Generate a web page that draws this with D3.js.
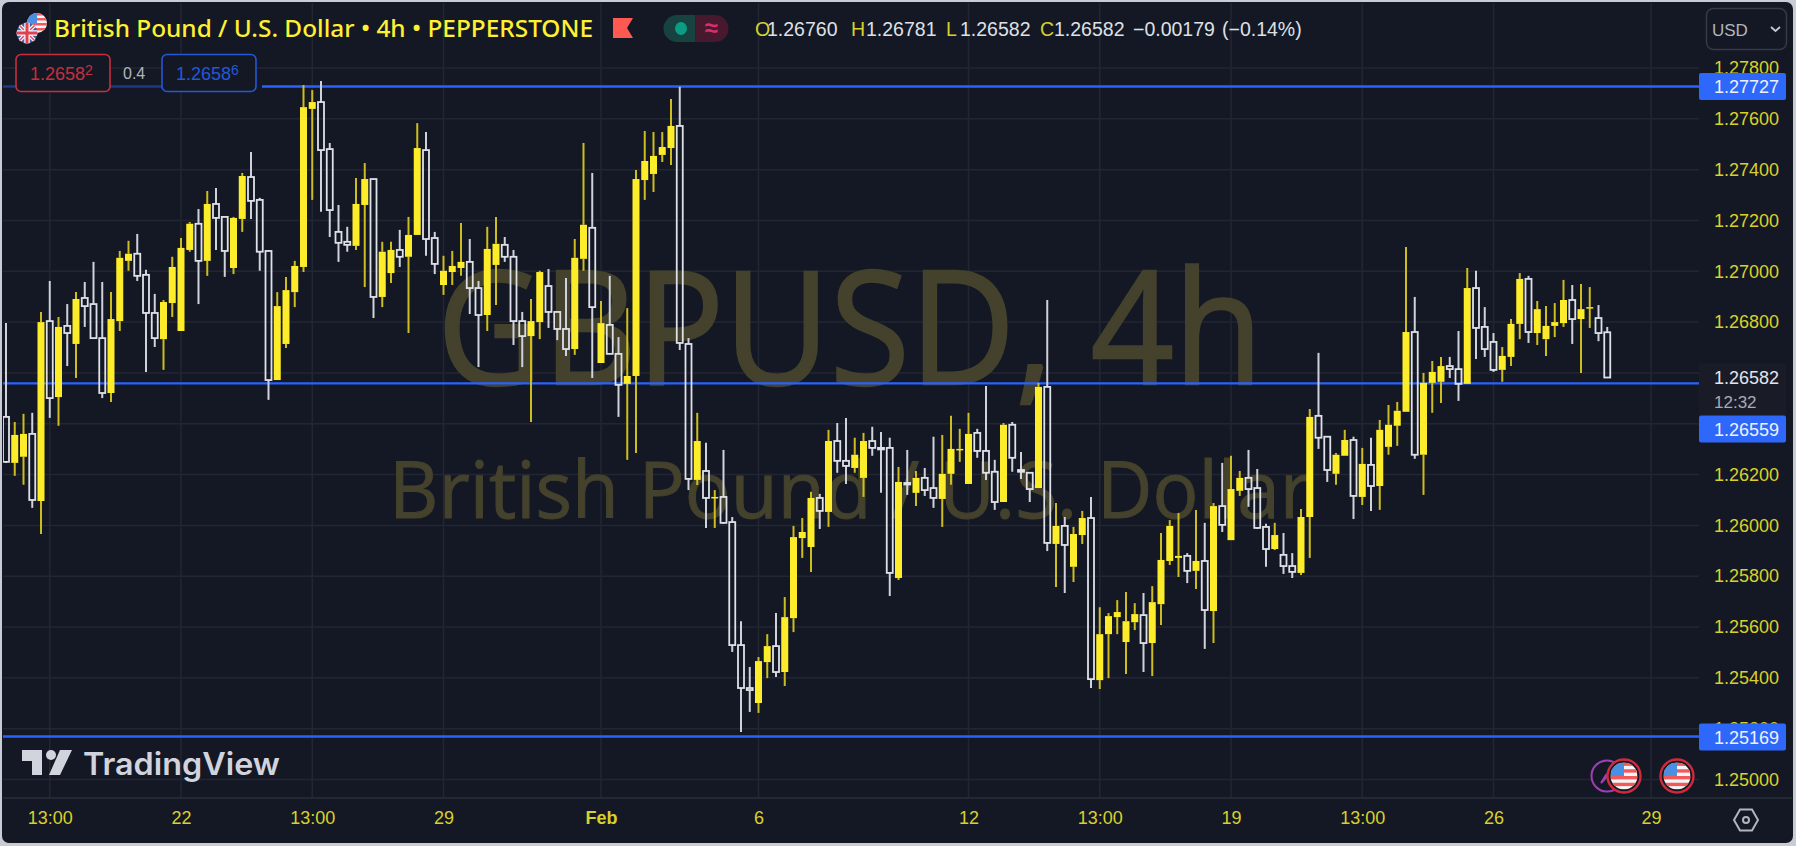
<!DOCTYPE html>
<html>
<head>
<meta charset="utf-8">
<script src="https://cdn.jsdelivr.net/npm/d3@7"></script>
<style>
  html, body { margin: 0; padding: 0; background: #c9ccd5; overflow: hidden; }
  svg { display: block; }
  text { font-family: "Liberation Sans", sans-serif; }
</style>
</head>
<body>
<script>
const opens = [
  1.26427,1.26246,1.26270,1.26360,1.26096,1.26804,1.26505,1.26785,1.26714,1.26895,
  1.26871,1.26737,1.26521,1.26804,1.27041,1.27069,1.26986,1.26836,1.26733,1.26875,
  1.26765,1.27084,1.27187,1.27041,1.27265,1.27214,1.27013,1.27206,1.27371,1.27281,
  1.27080,1.26572,1.26714,1.26918,1.27017,1.27639,1.27666,1.27481,1.27155,1.27116,
  1.27100,1.27261,1.27363,1.26899,1.26993,1.27084,1.27057,1.27143,1.27477,1.27131,
  1.26946,1.26997,1.27013,1.27037,1.26934,1.26828,1.27025,1.27104,1.27057,1.26804,
  1.26745,1.26800,1.26942,1.26840,1.26773,1.26694,1.27049,1.27171,1.26639,1.26789,
  1.26675,1.26557,1.26588,1.27359,1.27383,1.27458,1.27485,1.27572,1.26714,1.26179,
  1.26214,1.26108,1.26112,1.26013,1.25529,1.25360,1.25301,1.25462,1.25525,1.25423,
  1.25635,1.25950,1.25915,1.26108,1.26053,1.26332,1.26254,1.26226,1.26187,1.26332,
  1.26305,1.26305,1.25793,1.26167,1.26128,1.26187,1.26147,1.26104,1.26203,1.26297,
  1.26163,1.26364,1.26293,1.26211,1.26092,1.26396,1.26218,1.26207,1.26147,1.26545,
  1.25927,1.25998,1.25837,1.25962,1.26029,1.25391,1.25572,1.25639,1.25541,1.25619,
  1.25647,1.25537,1.25690,1.25860,1.25872,1.25880,1.25821,1.25860,1.25663,1.26076,
  1.25942,1.26136,1.26187,1.26147,1.25994,1.25907,1.25884,1.25840,1.25813,1.26033,
  1.26431,1.26349,1.26203,1.26274,1.26336,1.26112,1.26238,1.26155,1.26309,1.26392,
  1.26447,1.26761,1.26278,1.26561,1.26565,1.26627,1.26615,1.26557,1.26934,1.26781,
  1.26722,1.26612,1.26663,1.26793,1.26970,1.26757,1.26733,1.26785,1.26796,1.26887,
  1.26812,1.26855,1.26816,1.26760
];
const highs = [
  1.26796,1.26407,1.26439,1.26443,1.26840,1.26962,1.26820,1.26871,1.26918,1.26958,
  1.27037,1.26958,1.26918,1.27080,1.27120,1.27147,1.27006,1.26911,1.26887,1.27057,
  1.27131,1.27194,1.27245,1.27316,1.27328,1.27214,1.27214,1.27387,1.27469,1.27289,
  1.27084,1.26918,1.26978,1.27041,1.27733,1.27713,1.27749,1.27505,1.27261,1.27175,
  1.27367,1.27426,1.27363,1.27116,1.27116,1.27163,1.27214,1.27583,1.27548,1.27155,
  1.27061,1.27080,1.27190,1.27127,1.26962,1.27175,1.27214,1.27135,1.27084,1.26840,
  1.26891,1.27002,1.27009,1.26840,1.26974,1.27127,1.27505,1.27387,1.26883,1.26982,
  1.26741,1.26855,1.27399,1.27552,1.27548,1.27548,1.27678,1.27726,1.26737,1.26443,
  1.26325,1.26139,1.26297,1.26033,1.25623,1.25443,1.25482,1.25572,1.25655,1.25718,
  1.25998,1.26029,1.26132,1.26124,1.26376,1.26403,1.26423,1.26345,1.26364,1.26388,
  1.26368,1.26345,1.26230,1.26297,1.26214,1.26226,1.26349,1.26356,1.26431,1.26380,
  1.26443,1.26380,1.26549,1.26258,1.26403,1.26407,1.26289,1.26207,1.26561,1.26887,
  1.26088,1.26033,1.25994,1.26057,1.26112,1.25678,1.25655,1.25706,1.25738,1.25694,
  1.25734,1.25761,1.25970,1.26021,1.26049,1.25891,1.26061,1.26010,1.26088,1.26246,
  1.26274,1.26214,1.26297,1.26222,1.26006,1.26010,1.25970,1.25891,1.26065,1.26458,
  1.26679,1.26349,1.26285,1.26376,1.26349,1.26305,1.26345,1.26415,1.26474,1.26486,
  1.27096,1.26899,1.26600,1.26647,1.26663,1.26663,1.26765,1.27013,1.27002,1.26859,
  1.26757,1.26702,1.26812,1.26993,1.26982,1.26883,1.26863,1.26875,1.26966,1.26946,
  1.26950,1.26938,1.26867,1.26781
];
const lows = [
  1.26246,1.26195,1.26160,1.26069,1.25966,1.26423,1.26392,1.26627,1.26580,1.26781,
  1.26737,1.26501,1.26486,1.26765,1.27002,1.26962,1.26604,1.26702,1.26612,1.26820,
  1.26765,1.27077,1.26871,1.26982,1.27084,1.26978,1.26989,1.27155,1.27206,1.27002,
  1.26494,1.26572,1.26698,1.26859,1.26997,1.27281,1.27234,1.27135,1.27037,1.27077,
  1.27084,1.26938,1.26816,1.26859,1.26954,1.27017,1.26757,1.27143,1.27061,1.26989,
  1.26907,1.26946,1.26982,1.26832,1.26623,1.26765,1.26867,1.27037,1.26710,1.26623,
  1.26407,1.26733,1.26777,1.26729,1.26667,1.26671,1.27002,1.26580,1.26639,1.26675,
  1.26427,1.26258,1.26285,1.27281,1.27312,1.27430,1.27418,1.26690,1.26139,1.26159,
  1.25990,1.25990,1.26006,1.25502,1.25187,1.25266,1.25262,1.25399,1.25403,1.25368,
  1.25580,1.25872,1.25817,1.25986,1.25994,1.26207,1.26163,1.26207,1.26112,1.26274,
  1.26128,1.25722,1.25785,1.26120,1.26076,1.26116,1.26069,1.25994,1.26160,1.26250,
  1.26163,1.26266,1.26179,1.26061,1.26092,1.26211,1.26183,1.26092,1.26147,1.25899,
  1.25758,1.25734,1.25777,1.25927,1.25360,1.25356,1.25399,1.25572,1.25415,1.25588,
  1.25423,1.25407,1.25608,1.25844,1.25797,1.25773,1.25750,1.25514,1.25537,1.25974,
  1.25942,1.26116,1.26073,1.25986,1.25837,1.25903,1.25809,1.25793,1.25805,1.25872,
  1.26301,1.26171,1.26160,1.26274,1.26025,1.26080,1.26057,1.26061,1.26278,1.26313,
  1.26447,1.26262,1.26120,1.26443,1.26482,1.26580,1.26490,1.26557,1.26655,1.26663,
  1.26604,1.26565,1.26627,1.26733,1.26718,1.26710,1.26667,1.26741,1.26781,1.26714,
  1.26600,1.26777,1.26725,1.26582
];
const closes = [
  1.26250,1.26356,1.26360,1.26100,1.26800,1.26501,1.26781,1.26757,1.26891,1.26863,
  1.26737,1.26521,1.26812,1.27053,1.27069,1.26982,1.26836,1.26737,1.26879,1.27017,
  1.27092,1.27187,1.27041,1.27265,1.27210,1.27080,1.27210,1.27375,1.27277,1.27077,
  1.26572,1.26863,1.26926,1.27021,1.27646,1.27666,1.27477,1.27241,1.27112,1.27104,
  1.27265,1.27363,1.26899,1.27077,1.27084,1.27057,1.27143,1.27485,1.27127,1.27029,
  1.27002,1.27021,1.27037,1.26934,1.26828,1.27088,1.27108,1.27057,1.26804,1.26745,
  1.26804,1.26997,1.26840,1.26773,1.26694,1.27053,1.27183,1.26859,1.26796,1.26675,
  1.26553,1.26588,1.27363,1.27434,1.27454,1.27489,1.27572,1.26718,1.26183,1.26332,
  1.26108,1.26112,1.26010,1.25529,1.25360,1.25352,1.25466,1.25525,1.25423,1.25639,
  1.25954,1.25974,1.26108,1.26057,1.26332,1.26254,1.26234,1.26278,1.26332,1.26305,
  1.26301,1.25813,1.26171,1.26163,1.26187,1.26139,1.26108,1.26203,1.26301,1.26301,
  1.26360,1.26293,1.26207,1.26092,1.26396,1.26266,1.26211,1.26143,1.26545,1.25931,
  1.25998,1.25923,1.25966,1.26029,1.25395,1.25572,1.25643,1.25659,1.25623,1.25651,
  1.25537,1.25698,1.25864,1.25998,1.25880,1.25821,1.25860,1.25667,1.26076,1.26002,
  1.26143,1.26187,1.26143,1.25990,1.25907,1.25962,1.25840,1.25817,1.26033,1.26427,
  1.26345,1.26218,1.26278,1.26336,1.26116,1.26242,1.26155,1.26376,1.26396,1.26451,
  1.26761,1.26278,1.26561,1.26604,1.26627,1.26615,1.26557,1.26934,1.26777,1.26694,
  1.26612,1.26667,1.26793,1.26970,1.26761,1.26851,1.26785,1.26800,1.26887,1.26812,
  1.26851,1.26859,1.26757,1.26582
];

// horizontal levels drawn on the chart, and the tag text that goes with them
const levels = [1.27727, 1.26559, 1.25169];
const priceTicks = [1.278, 1.276, 1.274, 1.272, 1.27, 1.268, 1.266, 1.264, 1.262, 1.26, 1.258, 1.256, 1.254, 1.252, 1.25];
// 1.266 and 1.264 sit under the last price and the level tag, so they get a grid line but no label
const priceLabels = priceTicks.filter((d) => d !== 1.266 && d !== 1.264);
const timeTickBars = [5, 20, 35, 50, 68, 86, 110, 125, 140, 155, 170, 188];
const timeTickLabels = ["13:00", "22", "13:00", "29", "Feb", "6", "12", "13:00", "19", "13:00", "26", "29"];
const lastPrice = 1.26582;

const width = 1796;
const height = 846;
const paneRight = 1699;
const paneBottom = 798;

const bg = "#141824";
const yellow = "#fdec2a";
const yellowWick = "#cdbd1e";
const white = "#dfe1e8";
const whiteWick = "#cfd2da";
const axisYellow = "#d8d12a";
const blue = "#2962ff";
const grid = "#222632";

const svg = d3.select("body").append("svg").attr("width", width).attr("height", height);

// chart panel, the light page shows round it
svg.append("rect").attr("x", 2).attr("y", 2).attr("width", 1791).attr("height", 841)
  .attr("rx", 7).attr("fill", bg);

const xScale = d3.scaleLinear().domain([0, 188]).range([6, 1651]);
const yScale = d3.scaleLinear().domain([1.25, 1.278]).range([779.5, 68]);

const defs = svg.append("defs");
defs.append("clipPath").attr("id", "pane").append("rect")
  .attr("x", 3).attr("y", 3).attr("width", paneRight - 3).attr("height", paneBottom - 3);

const pane = svg.append("g").attr("clip-path", "url(#pane)");

// grid
pane.selectAll(".hgrid").data(priceTicks).enter().append("line")
  .attr("class", "hgrid")
  .attr("x1", 3).attr("x2", paneRight)
  .attr("y1", (d) => yScale(d)).attr("y2", (d) => yScale(d))
  .attr("stroke", grid).attr("stroke-width", 1.5);
pane.selectAll(".vgrid").data(timeTickBars).enter().append("line")
  .attr("class", "vgrid")
  .attr("x1", (d) => xScale(d)).attr("x2", (d) => xScale(d))
  .attr("y1", 3).attr("y2", paneBottom)
  .attr("stroke", grid).attr("stroke-width", 1.5);

// watermark
pane.append("text").attr("x", 850).attr("y", 384)
  .attr("text-anchor", "middle").attr("textLength", 826).attr("lengthAdjust", "spacingAndGlyphs")
  .style("font-family", "'Open Sans'").style("font-size", "158px").attr("fill", "#44422c")
  .attr("stroke", "#44422c").attr("stroke-width", 2.5)
  .text("GBPUSD, 4h");
pane.append("text").attr("x", 850).attr("y", 518)
  .attr("text-anchor", "middle").attr("textLength", 922).attr("lengthAdjust", "spacingAndGlyphs")
  .style("font-family", "'Open Sans'").style("font-size", "78px").attr("fill", "#44422c")
  .attr("stroke", "#44422c").attr("stroke-width", 1)
  .text("British Pound / U.S. Dollar");

// level lines
pane.selectAll(".level").data(levels).enter().append("line")
  .attr("class", "level")
  .attr("x1", 3).attr("x2", paneRight)
  .attr("y1", (d) => yScale(d)).attr("y2", (d) => yScale(d))
  .attr("stroke", blue).attr("stroke-width", 2.4);

// candles
const bars = d3.range(closes.length).map((i) => ({
  i, open: opens[i], high: highs[i], low: lows[i], close: closes[i], up: closes[i] >= opens[i],
}));
const bodyTop = (d) => yScale(Math.max(d.open, d.close));
const bodyBottom = (d) => yScale(Math.min(d.open, d.close));

const candle = pane.selectAll(".candle").data(bars).enter().append("g").attr("class", "candle");

candle.append("line")
  .attr("x1", (d) => xScale(d.i)).attr("x2", (d) => xScale(d.i))
  .attr("y1", (d) => yScale(d.high)).attr("y2", bodyTop)
  .attr("stroke", (d) => (d.up ? yellowWick : whiteWick)).attr("stroke-width", 2);
candle.append("line")
  .attr("x1", (d) => xScale(d.i)).attr("x2", (d) => xScale(d.i))
  .attr("y1", bodyBottom).attr("y2", (d) => yScale(d.low))
  .attr("stroke", (d) => (d.up ? yellowWick : whiteWick)).attr("stroke-width", 2);
candle.append("rect")
  .attr("x", (d) => xScale(d.i) - (d.up ? 3.5 : 3))
  .attr("width", (d) => (d.up ? 7 : 6))
  .attr("y", bodyTop)
  .attr("height", (d) => Math.max(bodyBottom(d) - bodyTop(d), 1.5))
  .attr("fill", (d) => (d.up ? yellow : "none"))
  .attr("stroke", (d) => (d.up ? "none" : white))
  .attr("stroke-width", 1.8);

// separators of the axes
svg.append("line").attr("x1", 3).attr("x2", 1792).attr("y1", paneBottom).attr("y2", paneBottom)
  .attr("stroke", "#2a2e39").attr("stroke-width", 1.5);

// price axis
const yAxis = d3.axisRight(yScale).tickValues(priceLabels).tickSize(0).tickPadding(15).tickFormat(d3.format(".5f"));
const yAxisG = svg.append("g").attr("transform", `translate(${paneRight}, 0)`).call(yAxis);
yAxisG.select(".domain").remove();
yAxisG.selectAll("text").attr("fill", axisYellow).style("font-size", "18px")
  .style("font-family", "'Liberation Sans'");

// time axis
const xAxis = d3.axisBottom(xScale).tickValues(timeTickBars).tickSize(0).tickPadding(13).tickFormat((d, i) => timeTickLabels[i]);
const xAxisG = svg.append("g").attr("transform", `translate(0, ${paneBottom})`).call(xAxis);
xAxisG.select(".domain").remove();
xAxisG.selectAll("text").attr("fill", axisYellow).style("font-size", "18px")
  .style("font-family", "'Liberation Sans'")
  .style("font-weight", (d, i) => (timeTickLabels[i] === "Feb" ? "bold" : "normal"));

// last price and countdown
svg.append("rect").attr("x", paneRight).attr("y", yScale(lastPrice) - 14).attr("width", 87).attr("height", 52).attr("fill", "#191c27");
svg.append("text").attr("x", 1714).attr("y", yScale(lastPrice) + 6.5).attr("fill", "#e3e5ea").style("font-size", "18px").text(d3.format(".5f")(lastPrice));
svg.append("text").attr("x", 1714).attr("y", yScale(lastPrice) + 30).attr("fill", "#a9abb2").style("font-size", "17px").text("12:32");

// level tags, the middle one is pushed down under the countdown
const tagCenters = [86.5, 429, 737];
svg.selectAll(".tag").data(levels).enter().append("rect")
  .attr("class", "tag")
  .attr("x", paneRight).attr("width", 87).attr("height", 27).attr("rx", 2)
  .attr("y", (d, i) => tagCenters[i] - 13.5)
  .attr("fill", "#2e68fa");
svg.selectAll(".tagtext").data(levels).enter().append("text")
  .attr("class", "tagtext")
  .attr("x", 1714).attr("y", (d, i) => tagCenters[i] + 6.5)
  .attr("fill", "#eef1fb").style("font-size", "18px")
  .text((d) => d3.format(".5f")(d));

// title row
function flag(cx, cy, r, id, draw) {
  const g = svg.append("g").attr("clip-path", `url(#${id})`);
  defs.append("clipPath").attr("id", id).append("circle").attr("cx", cx).attr("cy", cy).attr("r", r);
  draw(g);
  return g;
}
function usFlag(cx, cy, r, id) {
  flag(cx, cy, r, id, (g) => {
    g.append("rect").attr("x", cx - r).attr("y", cy - r).attr("width", 2 * r).attr("height", 2 * r).attr("fill", "#f4f5f7");
    d3.range(0, 4).forEach((k) => {
      g.append("rect").attr("x", cx - r).attr("y", cy - r + k * r * 0.5).attr("width", 2 * r).attr("height", r * 0.25).attr("fill", "#f25a5a");
    });
    g.append("rect").attr("x", cx - r).attr("y", cy - r).attr("width", r).attr("height", r).attr("fill", "#4a90e2");
  });
}
usFlag(37, 23, 10, "us1");
flag(27, 33, 10.5, "uk", (g) => {
  g.append("circle").attr("cx", 27).attr("cy", 33).attr("r", 10.5).attr("fill", "#3f5fb0");
  g.append("path").attr("d", "M16 22L38 44M38 22L16 44").attr("stroke", "#f4f5f7").attr("stroke-width", 4);
  g.append("path").attr("d", "M16 22L38 44M38 22L16 44").attr("stroke", "#e05060").attr("stroke-width", 1.5);
  g.append("path").attr("d", "M27 22V44M16 33H38").attr("stroke", "#f4f5f7").attr("stroke-width", 5.5);
  g.append("path").attr("d", "M27 22V44M16 33H38").attr("stroke", "#e04050").attr("stroke-width", 3);
});

svg.append("text").attr("x", 54).attr("y", 36.5).attr("fill", "#fff033")
  .style("font-family", "'Noto Sans'").style("font-size", "23px").style("font-weight", 500)
  .attr("textLength", 539).attr("lengthAdjust", "spacingAndGlyphs")
  .text("British Pound / U.S. Dollar • 4h • PEPPERSTONE");

svg.append("path").attr("d", "M613 18H633L627 28L633 38H613Z").attr("fill", "#ff5a52");

svg.append("path").attr("d", "M695.5 15H677a13.5 13.5 0 0 0 0 27H695.5Z").attr("fill", "#17423f");
svg.append("path").attr("d", "M695.5 15H715a13.5 13.5 0 0 1 0 27H695.5Z").attr("fill", "#46192f");
svg.append("ellipse").attr("cx", 681).attr("cy", 28.5).attr("rx", 6).attr("ry", 6.5).attr("fill", "#0a9d85");
svg.append("text").attr("x", 711).attr("y", 36).attr("text-anchor", "middle").attr("fill", "#d92e6a")
  .style("font-size", "24px").style("font-weight", "bold").text("≈");

// OHLC legend
const legendParts = [
  [755, "O", axisYellow], [767, "1.26760", "#dfe1e6"],
  [851, "H", axisYellow], [866, "1.26781", "#dfe1e6"],
  [946, "L", axisYellow], [960, "1.26582", "#dfe1e6"],
  [1040, "C", axisYellow], [1054, "1.26582", "#dfe1e6"],
  [1133, "−0.00179", "#dfe1e6"], [1222, "(−0.14%)", "#dfe1e6"],
];
svg.selectAll(".legend").data(legendParts).enter().append("text")
  .attr("class", "legend")
  .attr("x", (d) => d[0]).attr("y", 36).attr("fill", (d) => d[2])
  .style("font-size", "19.5px").text((d) => d[1]);

// buy and sell boxes
svg.append("rect").attr("x", 3).attr("y", 80).attr("width", 258).attr("height", 13).attr("fill", bg).attr("opacity", 0.55);
svg.append("rect").attr("x", 256).attr("y", 80).attr("width", 6).attr("height", 13).attr("fill", bg);
function priceBox(x, color, big, small) {
  svg.append("rect").attr("x", x).attr("y", 54.5).attr("width", 94).attr("height", 37).attr("rx", 5)
    .attr("fill", bg).attr("stroke", color).attr("stroke-width", 1.6);
  const t = svg.append("text").attr("x", x + 14).attr("y", 80).attr("fill", color).style("font-size", "18px");
  t.append("tspan").text(big);
  t.append("tspan").attr("dy", -5).style("font-size", "14px").text(small);
}
priceBox(16, "#c72f3c", "1.2658", "2");
priceBox(162, "#2358d6", "1.2658", "6");
svg.append("text").attr("x", 123).attr("y", 79).attr("fill", "#b2b5be").style("font-size", "16px").text("0.4");

// currency button
svg.append("rect").attr("x", 1706.5).attr("y", 8.5).attr("width", 80).attr("height", 41).attr("rx", 7)
  .attr("fill", "none").attr("stroke", "#363a45").attr("stroke-width", 1.5);
svg.append("text").attr("x", 1712).attr("y", 36).attr("fill", "#b2b5be").style("font-size", "17px").text("USD");
svg.append("path").attr("d", "M1771 27l4.5 4 4.5-4").attr("fill", "none").attr("stroke", "#c5c8cf").attr("stroke-width", 1.8);

// TradingView logo
svg.append("path").attr("d", "M22 750H42V775H32V761H22Z").attr("fill", "#d1d4dc");
svg.append("circle").attr("cx", 51).attr("cy", 755).attr("r", 5).attr("fill", "#d1d4dc");
svg.append("path").attr("d", "M60 750H72L60 775H49Z").attr("fill", "#d1d4dc");
svg.append("text").attr("x", 83).attr("y", 775).attr("fill", "#d1d4dc")
  .style("font-family", "Inter").style("font-size", "31px").style("font-weight", 600)
  .attr("textLength", 197).attr("lengthAdjust", "spacingAndGlyphs").text("TradingView");

// event markers at the bottom
svg.append("circle").attr("cx", 1607).attr("cy", 776).attr("r", 15.5).attr("fill", bg).attr("stroke", "#a03fb5").attr("stroke-width", 2);
svg.append("path").attr("d", "M1612 771L1601 783L1606 775Z").attr("fill", "none").attr("stroke", "#a03fb5").attr("stroke-width", 2);
[[1624, "usA"], [1677, "usB"]].forEach(([cx, id]) => {
  svg.append("circle").attr("cx", cx).attr("cy", 776).attr("r", 16.5).attr("fill", bg).attr("stroke", "#d02a3c").attr("stroke-width", 2.4);
  usFlag(cx, 776, 13.5, id);
});

// settings icon
svg.append("path").attr("d", "M1740 809.5H1752L1758 820L1752 830.5H1740L1734 820Z").attr("fill", "none").attr("stroke", "#b2b5be").attr("stroke-width", 2);
svg.append("circle").attr("cx", 1746).attr("cy", 820).attr("r", 3).attr("fill", "none").attr("stroke", "#b2b5be").attr("stroke-width", 2);
</script>
</body>
</html>
